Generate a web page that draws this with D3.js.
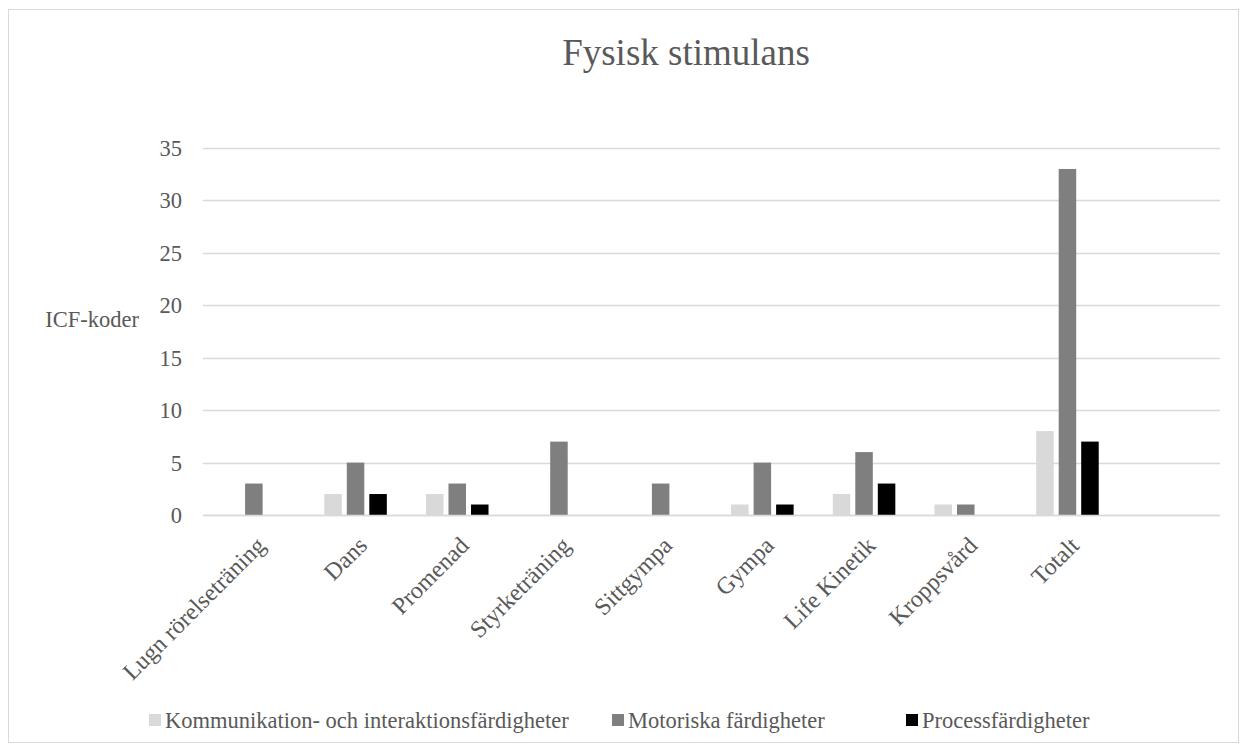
<!DOCTYPE html>
<html>
<head>
<meta charset="utf-8">
<script src="https://cdn.jsdelivr.net/npm/d3@7"></script>
<style>
  html, body { margin: 0; padding: 0; background: #ffffff; }
  svg { display: block; }
  svg text { font-family: "Liberation Serif", "Times New Roman", serif; fill: #595959; }
</style>
</head>
<body>
<svg id="chart" width="1247" height="751"></svg>
<script>
// Activity categories (the last slot is left empty, as in the workbook range)
const categories = ["Lugn rörelseträning", "Dans", "Promenad", "Styrketräning", "Sittgympa",
                    "Gympa", "Life Kinetik", "Kroppsvård", "Totalt", ""];
const seriesNames = ["Kommunikation- och interaktionsfärdigheter", "Motoriska färdigheter", "Processfärdigheter"];
const kommunikation = [0, 2, 2, 0, 0, 1, 2, 1, 8, null];
const motoriska     = [3, 5, 3, 7, 3, 5, 6, 1, 33, null];
const process       = [0, 2, 1, 0, 0, 1, 3, 0, 7, null];
const yTicks = [0, 5, 10, 15, 20, 25, 30, 35];
const seriesColors = ["#d9d9d9", "#7f7f7f", "#000000"];

const seriesValues = [kommunikation, motoriska, process];
const serif = '"Liberation Serif", "Times New Roman", serif';

const svg = d3.select("#chart");

// chart area frame
svg.append("rect")
  .attr("x", 8.5).attr("y", 9.5).attr("width", 1230).attr("height", 733)
  .attr("fill", "#ffffff").attr("stroke", "#d9d9d9").attr("stroke-width", 1);

const plot = { left: 203, right: 1220, top: 148, bottom: 515 };

const x0 = d3.scaleBand()
  .domain(categories.map((c, i) => i))
  .range([plot.left, plot.right])
  .paddingInner(0.385)
  .paddingOuter(0.1925);

const x1 = d3.scaleBand()
  .domain(d3.range(seriesNames.length))
  .range([0, x0.bandwidth()])
  .paddingInner(0.222);

const y = d3.scaleLinear().domain([0, 35]).range([plot.bottom, plot.top]);

// gridlines
svg.append("g")
  .selectAll("line")
  .data(yTicks)
  .join("line")
  .attr("x1", plot.left).attr("x2", plot.right)
  .attr("y1", d => Math.round(y(d)) + 0.5).attr("y2", d => Math.round(y(d)) + 0.5)
  .attr("stroke", "#d9d9d9").attr("stroke-width", 1.3);

// value axis labels
const yAxis = d3.axisLeft(y).tickValues(yTicks).tickSize(0).tickPadding(0);
const yg = svg.append("g").attr("transform", "translate(182,0)").call(yAxis);
yg.select(".domain").remove();
yg.selectAll("text")
  .style("font-family", serif)
  .style("font-size", "22.5px")
  .style("fill", "#595959")
  .attr("dy", "0.33em");

// bars
const groups = svg.append("g")
  .selectAll("g")
  .data(categories.map((c, i) => i))
  .join("g")
  .attr("transform", i => `translate(${x0(i)},0)`);

groups.selectAll("rect")
  .data(i => seriesValues.map((s, k) => ({ k, v: s[i] })).filter(d => d.v != null && d.v > 0))
  .join("rect")
  .attr("x", d => x1(d.k))
  .attr("width", x1.bandwidth())
  .attr("y", d => y(d.v))
  .attr("height", d => y(0) - y(d.v))
  .attr("fill", d => seriesColors[d.k]);

// category labels, rotated
const xAxis = d3.axisBottom(x0).tickFormat(i => categories[i]).tickSize(0).tickPadding(0);
const xg = svg.append("g").attr("transform", `translate(0,${plot.bottom})`).call(xAxis);
xg.select(".domain").remove();
xg.selectAll("text")
  .style("font-family", serif)
  .style("font-size", "24px")
  .style("fill", "#595959")
  .attr("text-anchor", "end")
  .attr("transform", "translate(7,26) rotate(-45)")
  .attr("dy", "0.35em")
  .attr("y", 0);

// category axis line
svg.append("line")
  .attr("x1", plot.left).attr("x2", plot.right)
  .attr("y1", Math.round(y(0)) + 0.5).attr("y2", Math.round(y(0)) + 0.5)
  .attr("stroke", "#d9d9d9").attr("stroke-width", 1.3);

// title
svg.append("text")
  .attr("x", 686).attr("y", 65)
  .attr("text-anchor", "middle")
  .style("font-size", "37px")
  .text("Fysisk stimulans");

// value axis title
svg.append("text")
  .attr("x", 139).attr("y", 327)
  .attr("text-anchor", "end")
  .style("font-size", "22.5px")
  .text("ICF-koder");

// legend
const legendX = [149, 612, 906];
const legend = svg.append("g").attr("transform", "translate(0,728)");
const items = legend.selectAll("g").data(seriesNames).join("g")
  .attr("transform", (d, i) => `translate(${legendX[i]},0)`);
items.append("rect")
  .attr("width", 12).attr("height", 12).attr("y", -14)
  .attr("fill", (d, i) => seriesColors[i]);
items.append("text")
  .attr("x", 16)
  .style("font-size", "22.5px")
  .text(d => d);
</script>
</body>
</html>
